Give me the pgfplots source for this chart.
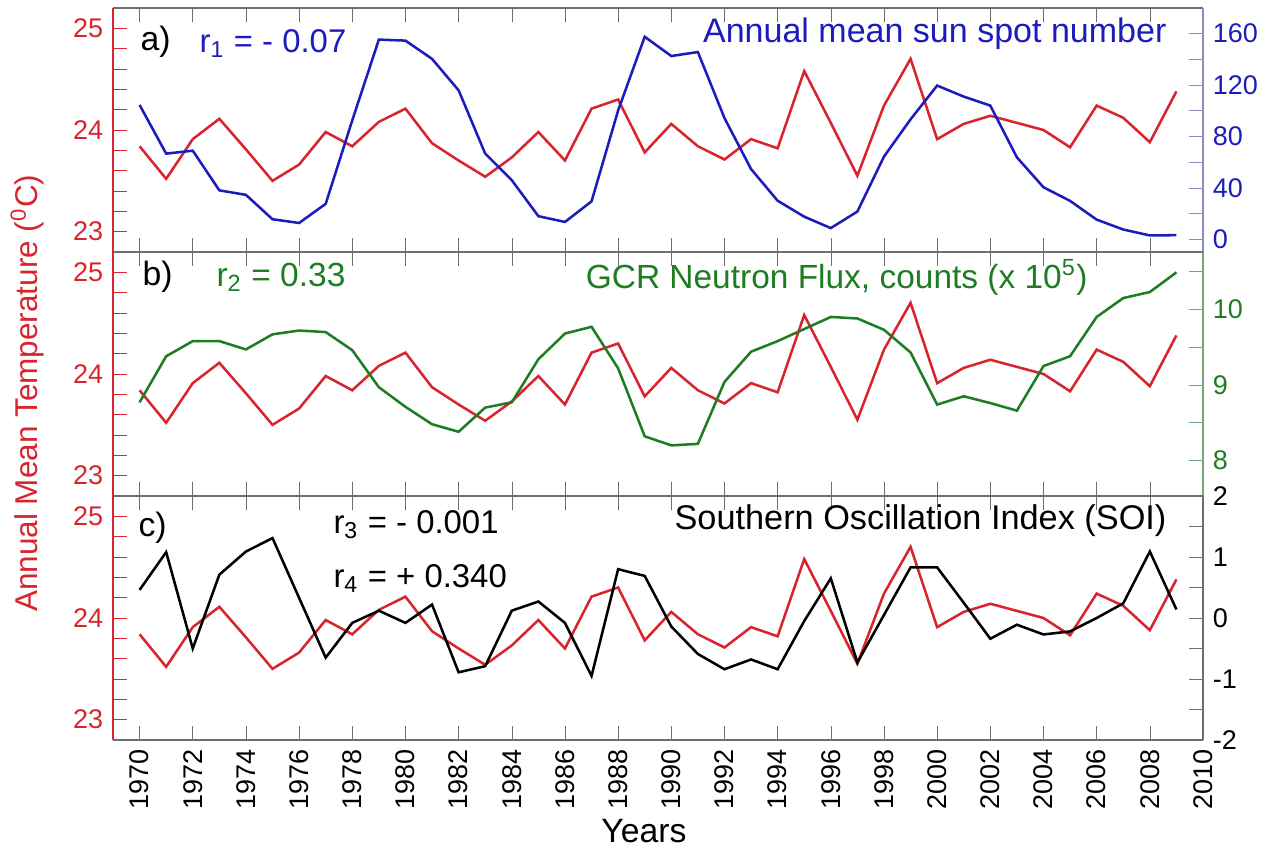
\documentclass[border=0pt]{standalone}
\usepackage{fontspec}
\setmainfont{Liberation Sans}
\usepackage{pgfplots}
\pgfplotsset{compat=1.18}
\usepackage{pgfplotstable}

\definecolor{tred}{RGB}{216,36,44}
\definecolor{tblue}{RGB}{28,28,190}
\definecolor{tgreen}{RGB}{30,125,35}
\definecolor{axgray}{RGB}{110,110,110}
\definecolor{spblue}{RGB}{140,140,195}
\definecolor{spgreen}{RGB}{120,165,120}

% temperature, sunspots, GCR neutron flux (x 10^5), SOI
\pgfplotstableread{
year temp ssn gcr soi
1970 23.84 104.5 8.77 0.46
1971 23.52 66.6 9.38 1.08
1972 23.91 68.9 9.58 -0.50
1973 24.11 38.0 9.58 0.71
1974 23.81 34.5 9.47 1.09
1975 23.50 15.5 9.67 1.31
1976 23.66 12.6 9.72 0.33
1977 23.98 27.5 9.70 -0.65
1978 23.84 92.5 9.46 -0.08
1979 24.08 155.4 8.97 0.12
1980 24.21 154.6 8.71 -0.08
1981 23.87 140.4 8.48 0.22
1982 23.70 115.9 8.38 -0.89
1983 23.54 66.6 8.70 -0.79
1984 23.73 45.9 8.77 0.12
1985 23.98 17.9 9.34 0.27
1986 23.70 13.4 9.68 -0.08
1987 24.21 29.4 9.77 -0.95
1988 24.30 100.2 9.22 0.80
1989 23.78 157.6 8.32 0.69
1990 24.06 142.6 8.20 -0.14
1991 23.84 145.7 8.22 -0.59
1992 23.71 94.3 9.04 -0.84
1993 23.91 54.6 9.44 -0.68
1994 23.82 29.9 9.58 -0.84
1995 24.58 17.5 9.74 -0.05
1996 24.07 8.6 9.90 0.65
1997 23.55 21.5 9.88 -0.73
1998 24.24 64.3 9.73 0.05
1999 24.70 93.3 9.43 0.83
2000 23.91 119.6 8.74 0.83
2001 24.06 111.0 8.85 0.25
2002 24.14 104.0 8.76 -0.34
2003 24.07 63.7 8.66 -0.11
2004 24.00 40.4 9.25 -0.27
2005 23.83 29.8 9.38 -0.22
2006 24.24 15.2 9.90 0.00
2007 24.12 7.5 10.15 0.24
2008 23.88 2.9 10.23 1.09
2009 24.38 3.1 10.49 0.14
}\data

\newcommand{\fsz}[1]{\fontsize{#1}{#1}\selectfont}
\tikzset{ann/.style={inner sep=0pt, font=\fsz{#1}}}

\pgfplotsset{
  base/.style={
    scale only axis, width=136.25mm, height=30.5mm,
    xmin=1969, xmax=2010,
    tick align=inside, major tick length=1.7mm, minor tick length=0.9mm,
    tick label style={font=\fsz{9.6}},
    every axis plot/.append style={line width=0.9pt, mark=none},
  },
  tleft/.style={
    base, axis x line*=box, axis y line*=left,
    ymin=22.8, ymax=25.2,
    ytick={23,23.2,23.4,23.6,23.8,24,24.2,24.4,24.6,24.8,25},
    yticklabels={23,,,,,24,,,,,25},
    xtick={1970,1972,...,2010}, minor x tick num=1, xticklabels={},
    x axis line style={draw=axgray,-}, y axis line style={draw=tred,-},
    x tick style={axgray}, y tick style={tred},
    yticklabel style={text=tred},
  },
  tright/.style={
    base, axis x line=none, axis y line*=right, xtick=\empty,
  },
}

\begin{document}
\begin{tikzpicture}
\useasboundingbox (0,0) rectangle (160.125mm,106.75mm);

% ---- a) sunspots
\begin{axis}[tleft, at={(14.125mm,75.25mm)}]
  \addplot[tred] table[x=year,y=temp]{\data};
  \node[ann=12,anchor=base west] at (rel axis cs:0.0248,0.824) {a)};
  \node[ann=11.7,anchor=base west,text=tblue] at (rel axis cs:0.0789,0.816) {r\textsubscript{1} = - 0.07};
  \node[ann=12.1,anchor=base east,text=tblue] at (rel axis cs:0.967,0.857) {Annual mean sun spot number};
\end{axis}
\begin{axis}[tright, at={(14.125mm,75.25mm)}, ymin=-10, ymax=180,
    ytick={0,20,...,160}, yticklabels={0,,40,,80,,120,,160},
    y axis line style={draw=spblue,-}, y tick style={spblue}, yticklabel style={text=tblue}]
  \addplot[tblue] table[x=year,y=ssn]{\data};
\end{axis}

% ---- b) GCR
\begin{axis}[tleft, at={(14.125mm,44.75mm)}]
  \addplot[tred] table[x=year,y=temp]{\data};
  \node[ann=12,anchor=base west] at (rel axis cs:0.0266,0.861) {b)};
  \node[ann=11.9,anchor=base west,text=tgreen] at (rel axis cs:0.0945,0.857) {r\textsubscript{2} = 0.33};
  \node[ann=11.9,anchor=base east,text=tgreen] at (rel axis cs:0.8945,0.852) {GCR Neutron Flux, counts (x 10\textsuperscript{5})};
\end{axis}
\begin{axis}[tright, at={(14.125mm,44.75mm)}, ymin=7.53, ymax=10.76,
    ytick={8,8.5,9,9.5,10,10.5}, yticklabels={8,,9,,10,},
    y axis line style={draw=spgreen,-}, y tick style={spgreen}, yticklabel style={text=tgreen}]
  \addplot[tgreen] table[x=year,y=gcr]{\data};
\end{axis}

% ---- c) SOI
\begin{axis}[tleft, at={(14.125mm,14.25mm)},
    xticklabels={1970,1972,1974,1976,1978,1980,1982,1984,1986,1988,1990,1992,1994,1996,1998,2000,2002,2004,2006,2008,2010},
    xticklabel style={rotate=90,anchor=east}]
  \addplot[tred] table[x=year,y=temp]{\data};
  \node[ann=12,anchor=base west] at (rel axis cs:0.0229,0.836) {c)};
  \node[ann=11.7,anchor=base west] at (rel axis cs:0.2018,0.848) {r\textsubscript{3} = - 0.001};
  \node[ann=11.7,anchor=base west] at (rel axis cs:0.2018,0.627) {r\textsubscript{4} = + 0.340};
  \node[ann=12.2,anchor=base east] at (rel axis cs:0.967,0.861) {Southern Oscillation Index (SOI)};
\end{axis}
\begin{axis}[tright, at={(14.125mm,14.25mm)}, ymin=-2, ymax=2,
    ytick={-2,-1.5,-1,-0.5,0,0.5,1,1.5,2}, yticklabels={-2,,-1,,0,,1,,2},
    y axis line style={draw=axgray,-}, y tick style={axgray}]
  \addplot[black] table[x=year,y=soi]{\data};
\end{axis}

\node[anchor=base,font=\fsz{12}] at (80.5mm,1.375mm) {Years};
\node[rotate=90,text=tred,font=\fsz{11.2}] at (3.375mm,57.6mm)
  {Annual Mean Temperature (\textsuperscript{0}C)};
\end{tikzpicture}
\end{document}
